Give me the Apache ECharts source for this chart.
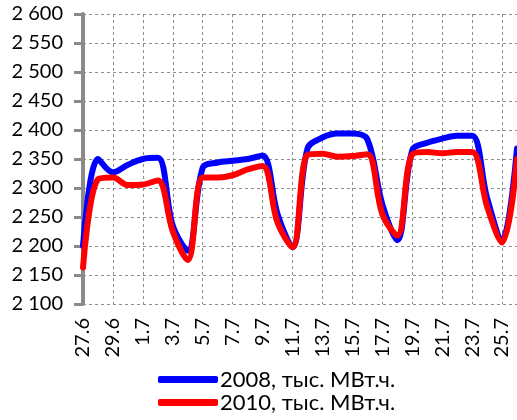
<!DOCTYPE html>
<html>
<head>
<meta charset="utf-8">
<script src="https://cdn.jsdelivr.net/npm/echarts@6/dist/echarts.min.js"></script>
<style>
  html, body { margin: 0; padding: 0; background: #fff; }
  #main { width: 517px; height: 420px; }
</style>
</head>
<body>
<div id="main"></div>
<script>
// даты (27.6 - 26.7)
const days = ['27.6', '28.6', '29.6', '30.6',
  '1.7', '2.7', '3.7', '4.7', '5.7', '6.7', '7.7', '8.7', '9.7', '10.7',
  '11.7', '12.7', '13.7', '14.7', '15.7', '16.7', '17.7', '18.7', '19.7', '20.7',
  '21.7', '22.7', '23.7', '24.7', '25.7', '26.7'];

// потребление, тыс. МВт.ч.
const y2008 = [2200, 2350, 2327, 2340, 2350, 2352, 2235, 2192, 2335, 2344,
  2347, 2350, 2356, 2255, 2198, 2368, 2387, 2394, 2394, 2384,
  2272, 2210, 2365, 2378, 2385, 2390, 2390, 2283, 2210, 2368];
const y2010 = [2163, 2315, 2318, 2305, 2306, 2313, 2225, 2176, 2318, 2318,
  2322, 2332, 2338, 2240, 2198, 2357, 2359, 2354, 2355, 2358,
  2255, 2218, 2358, 2362, 2360, 2362, 2362, 2268, 2206, 2350];

const names = ['2008, тыс. МВт.ч.', '2010, тыс. МВт.ч.'];

const chart = echarts.init(document.getElementById('main'));

const font = 'Lato, "Open Sans", sans-serif';

// формат "2 600"
const fmt = v => String(v).replace(/\B(?=(\d{3})+(?!\d))/g, ' ');

const option = {
  animation: false,
  grid: { left: 83, top: 14, width: 435, height: 290 },
  legend: {
    orient: 'vertical',
    left: 158,
    top: 368,
    height: 50,
    padding: 0,
    itemWidth: 60,
    itemHeight: 7,
    itemGap: 0,
    icon: 'roundRect',
    textStyle: { fontFamily: font, fontSize: 22, color: '#000', lineHeight: 23, padding: [0, 0, 0, -3] },
    data: names
  },
  xAxis: {
    type: 'category',
    boundaryGap: false,
    data: days,
    axisLine: { show: false },
    axisTick: { show: false },
    axisLabel: {
      interval: 1,
      rotate: 90,
      margin: 14,
      fontFamily: font,
      fontSize: 20,
      color: '#000'
    },
    splitLine: {
      show: true,
      interval: 1,
      lineStyle: { color: '#8c8c8c', type: [3, 3], width: 1 }
    }
  },
  yAxis: {
    type: 'value',
    min: 2100,
    max: 2600,
    interval: 50,
    axisLine: { show: true, lineStyle: { color: '#8a8a8a', width: 4 } },
    axisTick: { show: true, length: 9, lineStyle: { color: '#8a8a8a', width: 3 } },
    axisLabel: {
      margin: 20,
      fontFamily: font,
      fontSize: 20,
      color: '#000',
      formatter: fmt
    },
    splitLine: { lineStyle: { color: '#8c8c8c', type: [3, 3], width: 1 } }
  },
  series: [
    {
      name: names[0],
      type: 'line',
      data: y2008,
      smooth: 0.35,
      symbol: 'none',
      itemStyle: { color: '#0000ff' },
      lineStyle: { color: '#0000ff', width: 6, cap: 'round', join: 'round' }
    },
    {
      name: names[1],
      type: 'line',
      data: y2010,
      smooth: 0.35,
      symbol: 'none',
      itemStyle: { color: '#ff0000' },
      lineStyle: { color: '#ff0000', width: 6, cap: 'round', join: 'round' }
    }
  ]
};

chart.setOption(option);
</script>
</body>
</html>
